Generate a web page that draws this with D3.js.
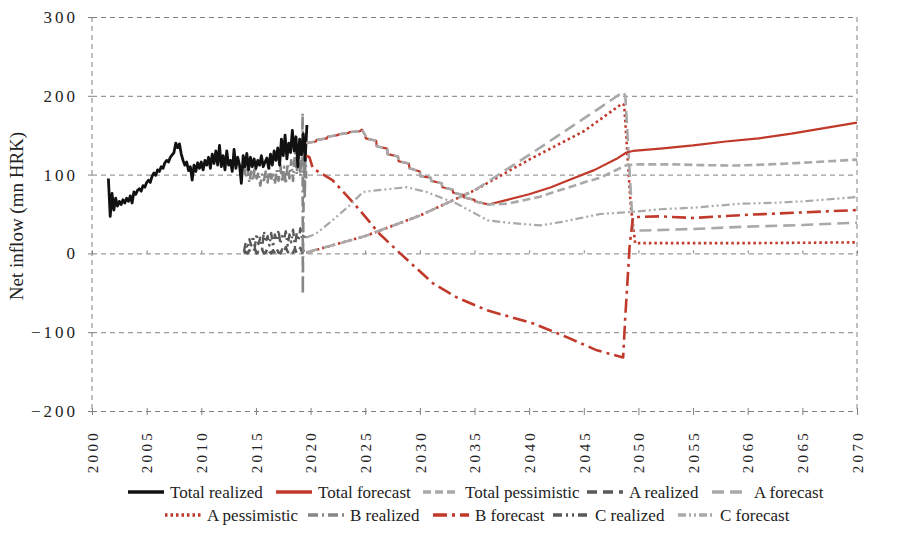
<!DOCTYPE html>
<html lang="en">
<head>
<meta charset="UTF-8">
<title>Net inflow</title>
<script src="https://cdn.jsdelivr.net/npm/d3@7"></script>
<style>
  body { margin: 0; background: #fff; }
</style>
</head>
<body>
<div id="chart"></div>
<script>
// ---- data (mn HRK) ----
const yTicks = [-200, -100, 0, 100, 200, 300];
const xTicks = [2000, 2005, 2010, 2015, 2020, 2025, 2030, 2035, 2040, 2045, 2050, 2055, 2060, 2065, 2070];

// realized series, one value every two months
const realizedStep = 1 / 6;
const totalRealizedStart = 2001.5;
const totalRealized = [
  95, 47, 76, 55, 70, 60, 66, 62, 68, 64, 70, 66, 73, 64, 78, 75, 80, 82, 79, 86,
  84, 90, 93, 90, 98, 102, 99, 106, 104, 110, 108, 115, 118, 116, 122, 125, 128, 140, 134, 139,
  126, 118, 112, 116, 105, 110, 93, 112, 104, 115, 108, 116, 106, 118, 112, 122, 108, 126, 114, 130,
  112, 137, 110, 124, 106, 130, 112, 118, 104, 132, 108, 122, 112, 89, 124, 110, 127, 106, 122, 110,
  120, 108, 118, 112, 124, 110, 116, 121, 108, 126, 112, 130, 118, 134, 112, 145, 124, 150, 120, 140,
  128, 156, 130, 148, 110, 145, 125, 152, 118, 163
];

const subRealizedStart = 2013.9;
const aRealized = [
  0, 2, 0, 4, 0, 1, 6, 0, 2, 0, 5, 0, 1, 7, 2, 0, 4, 0, 6, 1,
  0, 5, 1, 8, 2, 0, 4, 1, 6, 0, 3, 7, 1, 5
];
const bRealized = [
  112, 96, 108, 90, 104, 92, 110, 95, 103, 86, 100, 93, 104, 90, 108, 95, 100, 88, 106, 92,
  112, 90, 110, 88, 114, 95, 118, 92, 128, 100, 135, 98, 140
];
// B realized end of 2019 (large swings)
const bRealizedEnd = [[2019.27, 178], [2019.29, -52], [2019.33, 30], [2019.4, 120], [2019.47, 70], [2019.53, 130], [2019.6, 95]];
const cRealized = [
  2, 14, 6, 18, 10, 22, 8, 25, 12, 20, 6, 28, 14, 22, 10, 26, 8, 24, 16, 30,
  12, 22, 18, 28, 10, 24, 14, 30, 8, 26, 16, 32, 18, 25, 20
];

// forecast series [year, value]
const totalForecast = [
  [2019.6, 140], [2020.5, 142], [2020.55, 144], [2021.5, 146], [2021.55, 148], [2022.5, 150], [2022.55, 151],
  [2023.5, 153], [2023.55, 154], [2024.5, 155], [2024.7, 157], [2025.0, 150], [2025.05, 146], [2026, 143],
  [2026.05, 136], [2027, 133], [2027.05, 126], [2028, 123], [2028.05, 117], [2029, 114], [2029.05, 108],
  [2030, 104], [2030.05, 98], [2031, 96], [2031.05, 92], [2032, 89], [2032.05, 84], [2033, 81], [2033.05, 77],
  [2034, 74], [2034.05, 71], [2035, 68], [2035.05, 66], [2036.3, 62], [2038, 68], [2040, 75], [2042, 84],
  [2044, 95], [2046, 106], [2048, 120], [2048.9, 128], [2049.5, 130], [2052, 133], [2055, 137], [2058, 142],
  [2061, 146], [2064, 152], [2067, 159], [2070, 166]
];
const totalPessimisticTail = [
  [2038, 63], [2039, 66], [2041, 72], [2043, 81], [2045, 90], [2046.5, 96], [2048.9, 112], [2050, 113],
  [2053, 113], [2056, 112], [2059, 111.5], [2062, 113], [2065, 115], [2070, 119]
];
const aForecast = [
  [2019.6, 1], [2025, 22], [2030, 48], [2035, 80], [2040, 125], [2046.5, 185], [2048.6, 205], [2048.8, 200],
  [2049.5, 29], [2050.5, 29], [2055, 31], [2060, 34], [2065, 36], [2070, 39]
];
const aPessimistic = [
  [2019.6, 1], [2025, 22], [2030, 48], [2035, 80], [2040, 119], [2045, 155], [2048.5, 190], [2048.7, 188],
  [2049.3, 60], [2049.7, 13], [2055, 13], [2060, 13], [2065, 13.5], [2070, 14]
];
const bForecast = [
  [2019.6, 124], [2019.9, 122], [2020.2, 108], [2022, 93], [2024, 63], [2026.3, 25], [2028.2, 0], [2031.2, -38],
  [2033.4, -56], [2036.1, -72], [2040.4, -89], [2043.4, -106], [2046.2, -123], [2048.6, -132], [2048.8, -80],
  [2049.2, 10], [2049.5, 46], [2052, 47], [2055, 45], [2060, 49], [2065, 52], [2070, 55]
];
const cForecast = [
  [2019.6, 20], [2020.5, 25], [2022, 42], [2023.5, 60], [2024.8, 78], [2026, 80], [2028.8, 84], [2030.6, 78],
  [2033.4, 63], [2036.2, 42], [2038, 39], [2041, 35.5], [2043, 40], [2046.5, 50], [2048.8, 52], [2052, 56],
  [2055, 58], [2059.3, 63], [2062, 64], [2065, 66], [2070, 71.5]
];

// ---- build series ----
const fromStep = (start, vals) => vals.map((v, i) => [start + i * realizedStep, v]);
const totalPessimistic = totalForecast.filter(d => d[0] <= 2036.3).concat(totalPessimisticTail);

const RED = "#c0392b", DARK = "#595959", MID = "#868686", LIGHT = "#a9a9a9";
const FONT = "Liberation Serif";

// legend order; draw order set separately
const series = [
  { name: "Total realized", data: fromStep(totalRealizedStart, totalRealized), color: "#111", dash: null, w: 2.8 },
  { name: "Total forecast", data: totalForecast, color: RED, dash: null, w: 2.2 },
  { name: "Total pessimistic", data: totalPessimistic, color: LIGHT, dash: "8,4", w: 2.6 },
  { name: "A realized", data: fromStep(subRealizedStart, aRealized), color: DARK, dash: "10,6", w: 2.6 },
  { name: "A forecast", data: aForecast, color: LIGHT, dash: "12,6", w: 2.6 },
  { name: "A pessimistic", data: aPessimistic, color: RED, dash: "2.5,3", w: 2.6 },
  { name: "B realized", data: fromStep(subRealizedStart, bRealized).concat(bRealizedEnd), color: MID, dash: "10,4,2,4", w: 2.6 },
  { name: "B forecast", data: bForecast, color: RED, dash: "14,5,3,5", w: 2.6 },
  { name: "C realized", data: fromStep(subRealizedStart, cRealized), color: DARK, dash: "9,4,2,4,2,4", w: 2.4 },
  { name: "C forecast", data: cForecast, color: LIGHT, dash: "8,3,2,3,2,3", w: 2.2 }
];
const drawOrder = ["A realized", "C realized", "B realized", "Total realized", "A pessimistic", "A forecast",
  "B forecast", "C forecast", "Total forecast", "Total pessimistic"];

// ---- layout ----
const width = 900, height = 534;
const margin = { left: 92, right: 43, top: 17, bottom: 123 };

const x = d3.scaleLinear().domain([2000, 2070]).range([margin.left, width - margin.right]);
const y = d3.scaleLinear().domain([-200, 300]).range([height - margin.bottom, margin.top]);

const svg = d3.select("#chart").append("svg")
  .attr("width", width).attr("height", height)
  .attr("font-family", FONT);

// gridlines
const grid = svg.append("g").attr("transform", `translate(${margin.left},0)`)
  .call(d3.axisLeft(y).tickValues(yTicks).tickSize(-(x.range()[1] - x.range()[0])).tickFormat(""));
grid.select(".domain").remove();
grid.selectAll("line").attr("stroke", "#808080").attr("stroke-dasharray", "5,4");

// vertical border lines
svg.append("g").selectAll("line").data(x.domain()).join("line")
  .attr("x1", d => x(d)).attr("x2", d => x(d))
  .attr("y1", y(300)).attr("y2", y(-200))
  .attr("stroke", "#808080").attr("stroke-dasharray", "5,4");

// y axis labels + small ticks
const yAxis = svg.append("g").attr("transform", `translate(${margin.left},0)`)
  .call(d3.axisLeft(y).tickValues(yTicks).tickSize(4).tickPadding(10))
  .attr("font-family", FONT);
yAxis.select(".domain").remove();
yAxis.selectAll("line").attr("stroke", "#808080");
yAxis.selectAll("text").attr("font-size", 17).attr("letter-spacing", "3px")
  .attr("font-family", FONT).attr("fill", "#222");

// x axis at bottom with rotated labels
const xAxis = svg.append("g").attr("transform", `translate(0,${y(-200)})`)
  .call(d3.axisBottom(x).tickValues(xTicks).tickFormat(d3.format("d")).tickSize(4))
  .attr("font-family", FONT);
xAxis.select(".domain").remove();
xAxis.selectAll("line").attr("stroke", "#808080").attr("y1", -3);
xAxis.selectAll("text")
  .attr("font-size", 15).attr("letter-spacing", "3.3px")
  .attr("font-family", FONT).attr("fill", "#222")
  .attr("text-anchor", "end")
  .attr("transform", "rotate(-90)")
  .attr("x", -19).attr("y", 0).attr("dy", "0.35em");

// tick marks on the zero line
const zeroAxis = svg.append("g").attr("transform", `translate(0,${y(0)})`)
  .call(d3.axisTop(x).tickValues(xTicks).tickSize(3).tickFormat(""));
zeroAxis.select(".domain").remove();
zeroAxis.selectAll("line").attr("stroke", "#808080");

// axis title
svg.append("text")
  .attr("transform", `translate(16,${(y(300) + y(-200)) / 2 + 2}) rotate(-90)`)
  .attr("text-anchor", "middle")
  .attr("dy", "0.35em")
  .attr("font-family", FONT)
  .attr("font-size", 19)
  .attr("fill", "#222")
  .text("Net inflow (mn HRK)");

// lines
const line = d3.line().x(d => x(d[0])).y(d => y(d[1]));
const byName = new Map(series.map(s => [s.name, s]));
svg.append("g").selectAll("path").data(drawOrder.map(n => byName.get(n))).join("path")
  .attr("d", s => line(s.data))
  .attr("fill", "none")
  .attr("stroke", s => s.color)
  .attr("stroke-width", s => s.w)
  .attr("stroke-dasharray", s => s.dash)
  .attr("stroke-linejoin", "round");

// legend
const legendRows = [
  { y: 492, items: [["Total realized", 128], ["Total forecast", 276], ["Total pessimistic", 423], ["A realized", 587], ["A forecast", 712]] },
  { y: 515, items: [["A pessimistic", 165], ["B realized", 308], ["B forecast", 433], ["C realized", 553], ["C forecast", 678]] }
];
const legend = svg.append("g");
legendRows.forEach(row => {
  row.items.forEach(([name, lx]) => {
    const s = byName.get(name);
    legend.append("line")
      .attr("x1", lx).attr("x2", lx + 36).attr("y1", row.y).attr("y2", row.y)
      .attr("stroke", s.color).attr("stroke-width", 3.4)
      .attr("stroke-dasharray", s.dash);
    legend.append("text")
      .attr("x", lx + 42).attr("y", row.y).attr("dy", "0.33em")
      .attr("font-family", FONT)
      .attr("font-size", 17)
      .attr("fill", "#222")
      .text(name);
  });
});
</script>
</body>
</html>
